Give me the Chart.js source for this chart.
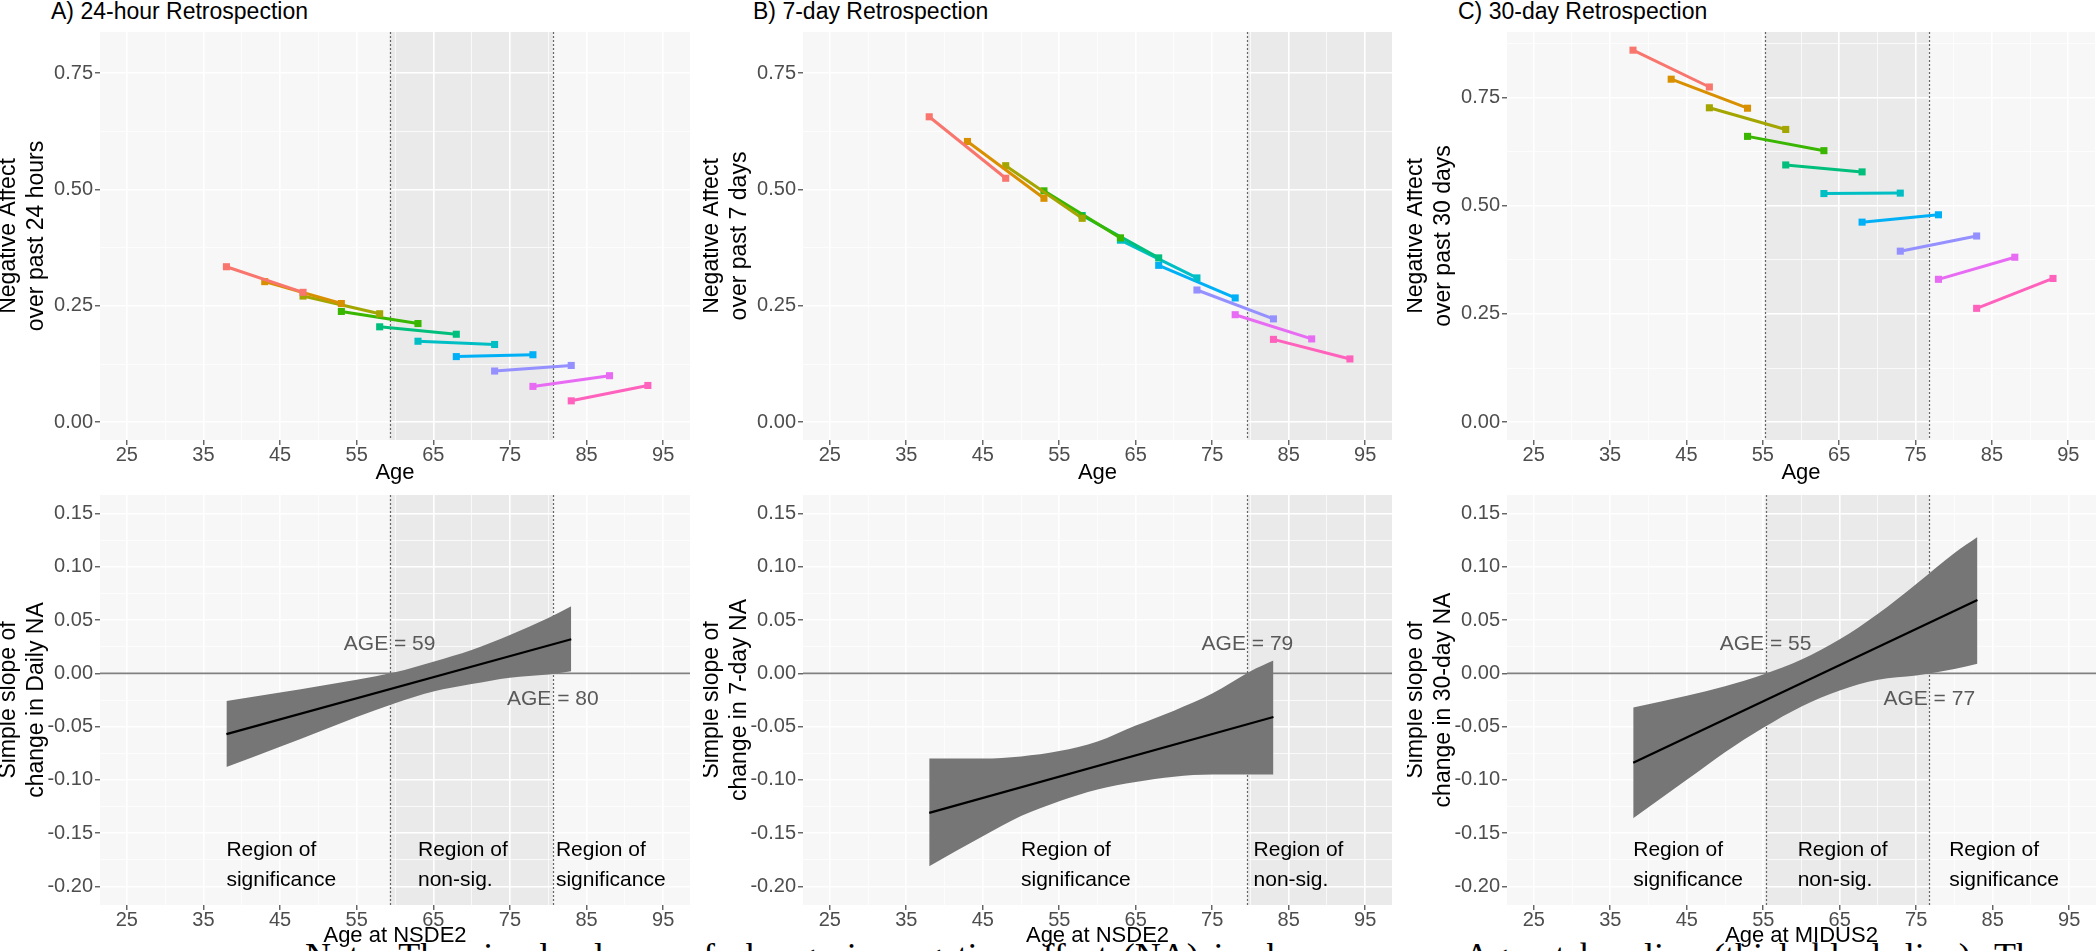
<!DOCTYPE html>
<html>
<head>
<meta charset="utf-8">
<script src="https://cdn.jsdelivr.net/npm/chart.js@4.4.1/dist/chart.umd.min.js"></script>
<style>
  html, body { margin: 0; padding: 0; background: #fff; }
  body { width: 2100px; height: 951px; overflow: hidden; position: relative;
         font-family: "Liberation Sans", Arial, Helvetica, sans-serif; }
  canvas { position: absolute; }
  .ptitle { position: absolute; top: 0; font-size: 23px; line-height: 23px; color: #000; white-space: nowrap; }
  .caption { position: absolute; left: 305px; top: 938px; width: 1745px;
             font-family: "Liberation Serif", "Times New Roman", serif; font-size: 36px; line-height: 36px;
             text-align: justify; text-align-last: justify; color: #000; }
</style>
</head>
<body>
<div class="ptitle" style="left:51px">A) 24-hour Retrospection</div>
<div class="ptitle" style="left:753px">B) 7-day Retrospection</div>
<div class="ptitle" style="left:1458px">C) 30-day Retrospection</div>
<div class="caption">Note. The simple slopes of change in negative affect (NA) is shown across Age at baseline (thick black line). The</div>
<script>
const FONT = "'Liberation Sans', Arial, Helvetica, sans-serif";
Chart.defaults.font.family = FONT;

// cohorts: age at first and second wave
const cohortStart = [38, 43, 48, 53, 58, 63, 68, 73, 78, 83];
const cohortEnd = [48, 53, 58, 63, 68, 73, 78, 83, 88, 93];
const cohortColors = ["#F8766D", "#D89000", "#A3A500", "#39B600", "#00BF7D",
                      "#00BFC4", "#00B0F6", "#9590FF", "#E76BF3", "#FF62BC"];

// negative affect at first / second wave
const na24Start = [0.334, 0.302, 0.271, 0.238, 0.205, 0.174, 0.141, 0.110, 0.077, 0.046];
const na24End = [0.279, 0.255, 0.233, 0.212, 0.189, 0.167, 0.145, 0.122, 0.100, 0.079];
const na7Start = [0.656, 0.603, 0.551, 0.497, 0.444, 0.391, 0.337, 0.284, 0.231, 0.178];
const na7End = [0.524, 0.481, 0.438, 0.396, 0.353, 0.310, 0.267, 0.222, 0.179, 0.136];
const na30Start = [0.859, 0.792, 0.726, 0.660, 0.594, 0.528, 0.462, 0.395, 0.330, 0.263];
const na30End = [0.774, 0.725, 0.676, 0.627, 0.578, 0.529, 0.479, 0.430, 0.381, 0.332];

// simple slopes (line endpoints) and confidence band
const lineAges = [38, 83];
const dailySlope = [-0.057, 0.032];
const weekSlope = [-0.131, -0.041];
const monthSlope = [-0.084, 0.069];

const bandAges = [38, 45, 50, 55, 60, 65, 70, 75, 80, 83];
const dailyUpper = [-0.026, -0.018, -0.012, -0.006, 0.001, 0.011, 0.022, 0.036, 0.052, 0.063];
const dailyLower = [-0.088, -0.069, -0.055, -0.041, -0.028, -0.017, -0.010, -0.004, -0.001, 0.002];
const weekUpper = [-0.080, -0.080, -0.078, -0.073, -0.064, -0.049, -0.035, -0.019, 0.002, 0.012];
const weekLower = [-0.181, -0.153, -0.134, -0.120, -0.109, -0.102, -0.097, -0.095, -0.095, -0.095];
const monthUpper = [-0.032, -0.021, -0.012, -0.001, 0.013, 0.032, 0.056, 0.084, 0.113, 0.128];
const monthLower = [-0.136, -0.100, -0.074, -0.051, -0.031, -0.016, -0.006, -0.002, 0.004, 0.009];

// Johnson-Neyman points
const jnDaily = [59.3, 80.6];
const jnWeek = [79.6];
const jnMonth = [55.3, 76.7];

// ticks
const xMajorTicks = [25, 35, 45, 55, 65, 75, 85, 95];
const xMinorTicks = [30, 40, 50, 60, 70, 80, 90];
const naMajorTicks = [0, 0.25, 0.5, 0.75];
const naMinorTicks = [0.125, 0.375, 0.625, 0.875];
const slopeMajorTicks = [-0.2, -0.15, -0.1, -0.05, 0, 0.05, 0.1, 0.15];
const slopeMinorTicks = [-0.175, -0.125, -0.075, -0.025, 0.025, 0.075, 0.125];
const regionLineY = [-0.166, -0.194];

const X_MIN = 21.5, X_MAX = 98.5;

function isMajor(majors, v) {
  return majors.some((m) => Math.abs(m - v) < 1e-9);
}

function tickSetter(majors, minors) {
  return (scale) => {
    const all = majors.concat(minors)
      .filter((v) => v >= scale.min && v <= scale.max)
      .sort((a, b) => a - b);
    scale.ticks = all.map((v) => ({ value: v }));
  };
}

// panel background, shading, reference lines and text labels
const panelPlugin = {
  id: "panel",
  beforeDraw(chart, args, o) {
    const { ctx, chartArea: a, scales: { x } } = chart;
    ctx.save();
    ctx.fillStyle = "#f7f7f7";
    ctx.fillRect(a.left, a.top, a.width, a.height);
    if (o.shade) {
      const x0 = Math.max(a.left, x.getPixelForValue(o.shade[0]));
      const x1 = Math.min(a.right, x.getPixelForValue(o.shade[1]));
      ctx.fillStyle = "#eaeaea";
      ctx.fillRect(x0, a.top, x1 - x0, a.height);
    }
    ctx.restore();
  },
  beforeDatasetsDraw(chart, args, o) {
    const { ctx, chartArea: a, scales: { x, y } } = chart;
    ctx.save();
    if (o.zeroLine) {
      const py = y.getPixelForValue(0);
      ctx.strokeStyle = "#808080";
      ctx.lineWidth = 1.8;
      ctx.beginPath();
      ctx.moveTo(a.left, py);
      ctx.lineTo(a.right, py);
      ctx.stroke();
    }
    ctx.font = "21px " + FONT;
    ctx.textBaseline = "middle";
    (o.ageLabels || []).forEach((l) => {
      ctx.fillStyle = "#595959";
      ctx.textAlign = "center";
      ctx.fillText(l.text, x.getPixelForValue(l.x), y.getPixelForValue(l.y));
    });
    (o.regionLabels || []).forEach((l) => {
      ctx.fillStyle = "#000";
      ctx.textAlign = "left";
      l.lines.forEach((t, i) => {
        ctx.fillText(t, x.getPixelForValue(l.x), y.getPixelForValue(regionLineY[i]));
      });
    });
    ctx.strokeStyle = "#666";
    ctx.lineWidth = 1.2;
    ctx.setLineDash([2, 2]);
    (o.vlines || []).forEach((v) => {
      const px = Math.round(x.getPixelForValue(v)) + 0.5;
      ctx.beginPath();
      ctx.moveTo(px, a.top);
      ctx.lineTo(px, a.bottom);
      ctx.stroke();
    });
    ctx.restore();
  },
};

function makeCanvas(left, top, w, h) {
  const cv = document.createElement("canvas");
  cv.width = w;
  cv.height = h;
  cv.style.left = left + "px";
  cv.style.top = top + "px";
  cv.style.width = w + "px";
  cv.style.height = h + "px";
  document.body.appendChild(cv);
  return cv.getContext("2d");
}

function axisX(title, axisH, titlePad) {
  return {
    type: "linear",
    min: X_MIN,
    max: X_MAX,
    afterBuildTicks: tickSetter(xMajorTicks, xMinorTicks),
    afterFit: (s) => { s.height = axisH; },
    ticks: {
      autoSkip: false,
      maxRotation: 0,
      color: "#4d4d4d",
      padding: 0,
      font: { size: 20, lineHeight: 1 },
      callback: (v) => (isMajor(xMajorTicks, v) ? String(v) : ""),
    },
    grid: {
      color: "#ffffff",
      lineWidth: (c) => (isMajor(xMajorTicks, c.tick.value) ? 1.6 : 0.7),
      tickColor: (c) => (isMajor(xMajorTicks, c.tick.value) ? "#333333" : "rgba(0,0,0,0)"),
      tickWidth: 1.1,
      tickLength: 5,
    },
    border: { display: false },
    title: {
      display: true,
      text: title,
      color: "#000",
      font: { size: 22, lineHeight: 1.2 },
      padding: { top: 0, bottom: titlePad },
    },
  };
}

function axisY(title, min, max, majors, minors) {
  return {
    type: "linear",
    min: min,
    max: max,
    afterBuildTicks: tickSetter(majors, minors),
    afterFit: (s) => { s.width = 100; },
    ticks: {
      autoSkip: false,
      color: "#4d4d4d",
      padding: 2,
      font: { size: 20 },
      callback: (v) => (isMajor(majors, v) ? v.toFixed(2) : ""),
    },
    grid: {
      color: "#ffffff",
      lineWidth: (c) => (isMajor(majors, c.tick.value) ? 1.6 : 0.7),
      tickColor: (c) => (isMajor(majors, c.tick.value) ? "#333333" : "rgba(0,0,0,0)"),
      tickWidth: 1.1,
      tickLength: 5,
    },
    border: { display: false },
    title: {
      display: true,
      text: title,
      color: "#000",
      font: { size: 23, lineHeight: 1.25 },
      padding: { top: -6, bottom: 0 },
    },
  };
}

const baseOptions = {
  responsive: false,
  animation: false,
  devicePixelRatio: 1,
  events: [],
};

function topPanel(left, w, padR, startVals, endVals, yMax, yTitle, shade, vlines) {
  const ctx = makeCanvas(left, 0, w, 490);
  const datasets = cohortStart.map((a, i) => ({
    data: [{ x: a, y: startVals[i] }, { x: cohortEnd[i], y: endVals[i] }],
    borderColor: cohortColors[i],
    backgroundColor: cohortColors[i],
    borderWidth: 3,
    pointStyle: "rect",
    pointRadius: 5,
    pointBorderWidth: 0,
    fill: false,
  }));
  new Chart(ctx, {
    type: "line",
    data: { datasets: datasets },
    options: Object.assign({}, baseOptions, {
      layout: { padding: { top: 32, left: 0, right: padR, bottom: 0 } },
      scales: {
        x: axisX("Age", 50, 3.5),
        y: axisY(yTitle, -yMax / 21, yMax + yMax / 21, naMajorTicks, naMinorTicks),
      },
      plugins: {
        legend: { display: false },
        tooltip: { enabled: false },
        panel: { shade: shade, vlines: vlines },
      },
    }),
    plugins: [panelPlugin],
  });
}

function bottomPanel(left, w, padR, upper, lower, slope, xTitle, yTitle, shade, vlines, ageLabels, regionLabels) {
  const ctx = makeCanvas(left, 480, w, 471);
  new Chart(ctx, {
    type: "line",
    data: {
      datasets: [
        {
          data: bandAges.map((a, i) => ({ x: a, y: upper[i] })),
          borderWidth: 0,
          pointRadius: 0,
          cubicInterpolationMode: "monotone",
          backgroundColor: "#767676",
          fill: "+1",
          order: 2,
        },
        {
          data: bandAges.map((a, i) => ({ x: a, y: lower[i] })),
          borderWidth: 0,
          pointRadius: 0,
          cubicInterpolationMode: "monotone",
          fill: false,
          order: 3,
        },
        {
          data: lineAges.map((a, i) => ({ x: a, y: slope[i] })),
          borderColor: "#000",
          borderWidth: 2.2,
          pointRadius: 0,
          fill: false,
          order: 0,
        },
      ],
    },
    options: Object.assign({}, baseOptions, {
      layout: { padding: { top: 15, left: 0, right: padR, bottom: 0 } },
      scales: {
        x: axisX(xTitle, 46, 1.5),
        y: axisY(yTitle, -0.2175, 0.1675, slopeMajorTicks, slopeMinorTicks),
      },
      plugins: {
        legend: { display: false },
        tooltip: { enabled: false },
        panel: {
          shade: shade,
          vlines: vlines,
          zeroLine: true,
          ageLabels: ageLabels,
          regionLabels: regionLabels,
        },
      },
    }),
    plugins: [panelPlugin],
  });
}

// top row
topPanel(0, 700, 10, na24Start, na24End, 0.8, ["Negative Affect", "over past 24 hours"], jnDaily, jnDaily);
topPanel(703, 697, 8, na7Start, na7End, 0.8, ["Negative Affect", "over past 7 days"], [jnWeek[0], X_MAX], jnWeek);
topPanel(1407, 693, 4, na30Start, na30End, 0.86, ["Negative Affect", "over past 30 days"], jnMonth, jnMonth);

// bottom row
bottomPanel(0, 700, 10, dailyUpper, dailyLower, dailySlope, "Age at NSDE2",
  ["Simple slope of", "change in Daily NA"], jnDaily, jnDaily,
  [{ text: "AGE = 59", x: 59.3, y: 0.027 }, { text: "AGE = 80", x: 80.6, y: -0.024 }],
  [{ x: 38, lines: ["Region of", "significance"] },
   { x: 63, lines: ["Region of", "non-sig."] },
   { x: 81, lines: ["Region of", "significance"] }]);
bottomPanel(703, 697, 8, weekUpper, weekLower, weekSlope, "Age at NSDE2",
  ["Simple slope of", "change in 7-day NA"], [jnWeek[0], X_MAX], jnWeek,
  [{ text: "AGE = 79", x: 79.6, y: 0.027 }],
  [{ x: 50, lines: ["Region of", "significance"] },
   { x: 80.4, lines: ["Region of", "non-sig."] }]);
bottomPanel(1407, 693, 4, monthUpper, monthLower, monthSlope, "Age at MIDUS2",
  ["Simple slope of", "change in 30-day NA"], jnMonth, jnMonth,
  [{ text: "AGE = 55", x: 55.3, y: 0.027 }, { text: "AGE = 77", x: 76.7, y: -0.024 }],
  [{ x: 38, lines: ["Region of", "significance"] },
   { x: 59.5, lines: ["Region of", "non-sig."] },
   { x: 79.3, lines: ["Region of", "significance"] }]);
</script>
</body>
</html>
